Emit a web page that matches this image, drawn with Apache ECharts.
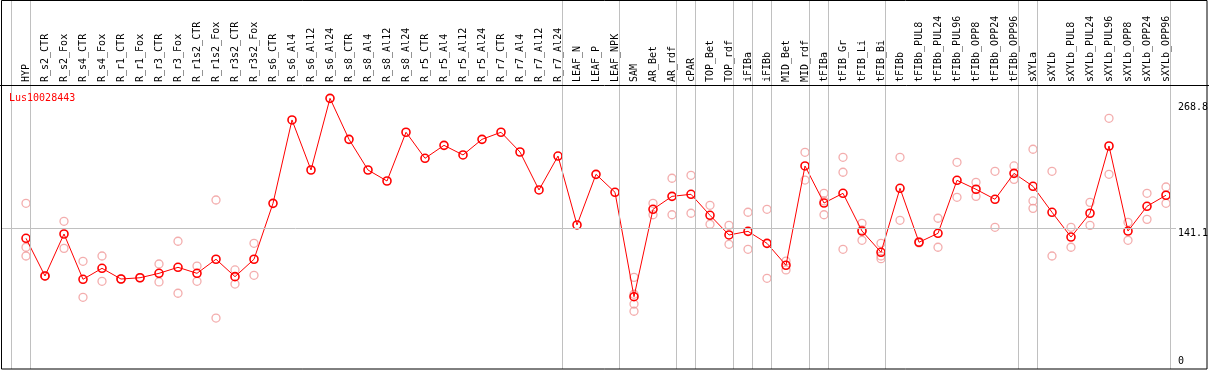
<!DOCTYPE html>
<html><head><meta charset="utf-8">
<script src="https://cdn.jsdelivr.net/npm/echarts@6/dist/echarts.min.js"></script>
<style>html,body{margin:0;padding:0;background:#fff}#c{width:1209px;height:370px}</style>
</head><body><div id="c"></div>
<script>
// ---------------- data ----------------
const geneName = 'Lus10028443';
const categories = ['HYP','R_s2_CTR','R_s2_Fox','R_s4_CTR','R_s4_Fox','R_r1_CTR','R_r1_Fox','R_r3_CTR','R_r3_Fox',
  'R_r1s2_CTR','R_r1s2_Fox','R_r3s2_CTR','R_r3s2_Fox','R_s6_CTR','R_s6_Al4','R_s6_Al12','R_s6_Al24',
  'R_s8_CTR','R_s8_Al4','R_s8_Al12','R_s8_Al24','R_r5_CTR','R_r5_Al4','R_r5_Al12','R_r5_Al24',
  'R_r7_CTR','R_r7_Al4','R_r7_Al12','R_r7_Al24','LEAF_N','LEAF_P','LEAF_NPK','SAM','AR_Bet','AR_rdf',
  'cPAR','TOP_Bet','TOP_rdf','iFIBa','iFIBb','MID_Bet','MID_rdf','tFIBa','tFIB_Gr','tFIB_Li','tFIB_Bi',
  'tFIBb','tFIBb_PUL8','tFIBb_PUL24','tFIBb_PUL96','tFIBb_OPP8','tFIBb_OPP24','tFIBb_OPP96',
  'sXYLa','sXYLb','sXYLb_PUL8','sXYLb_PUL24','sXYLb_PUL96','sXYLb_OPP8','sXYLb_OPP24','sXYLb_OPP96'];
const meanValues = [130.6,92.3,135.0,88.9,100.1,89.2,90.5,95.0,101.1,
  95.0,109.3,91.6,109.3,166.2,251.0,200.1,273.0,
  231.3,200.1,188.9,238.5,212.0,225.2,215.4,231.3,
  238.5,218.4,179.8,214.3,144.2,195.7,177.4,71.2,160.1,173.3,
  175.4,154.0,134.0,137.7,125.5,103.2,204.2,166.5,176.4,138.0,116.4,
  181.5,126.6,135.7,189.6,180.5,170.3,196.7,
  183.5,157.1,131.9,156.1,224.5,138.0,163.2,174.4];
const replicates = [
  [166.2,121.5,112.6],[92.0,92.6],[147.9,120.4],[107.2,70.6],[112.6,86.9],[89.0,89.4],[90.3,90.7],[104.5,86.2],[127.6,74.7],
  [102.4,86.9],[169.6,49.5],[98.4,84.1],[125.5,93.0],[],[],[],[],
  [],[],[],[],[],[],[],[],
  [],[],[],[],[],[],[],[90.9,73.7,63.8,56.4],[166.2,154.6],[191.7,154.6],
  [194.7,156.1],[164.2,144.9],[143.8,124.5],[157.1,119.4],[160.1,89.9],[107.5,98.4],[218.1,189.9],[176.4,168.6,154.6],[213.0,197.8,119.4],[145.9,139.1,128.6],[125.5,112.6,109.9],
  [213.0,148.9],[126.0,127.2],[151.0,121.5],[207.9,172.3],[187.6,173.3],[198.8,141.8],[204.2,190.6],
  [221.2,168.6,161.1],[198.8,112.6],[141.8,121.5],[167.2,143.8],[252.7,195.7],[146.9,128.6],[176.4,149.9],[182.8,166.2]];
const yTickValues = [0, 141.1, 268.8];
const groupEnds = ['HYP','R_r7_Al24','LEAF_NPK','AR_rdf','cPAR','TOP_rdf','iFIBa','iFIBb','MID_rdf','tFIBa','tFIB_Bi','tFIBb_OPP96','sXYLa','sXYLb_OPP96'];

// ---------------- layout ----------------
const FONT = 'DejaVu Sans Mono';
const X0 = 26, STEP = 19;              // pixel centre of first category, category spacing
const PLOT_L = 2, PLOT_R = 1176, PLOT_T = 0, PLOT_B = 369;
const ZERO_Y = 366.7, PX_PER_UNIT = 0.983;
const xMin = (PLOT_L - X0) / STEP, xMax = (PLOT_R - X0) / STEP;
const yMin = (ZERO_Y - PLOT_B) / PX_PER_UNIT, yMax = (ZERO_Y - PLOT_T) / PX_PER_UNIT;
const SEP_OFF = 0.235;
const HEADER_H = 84;

const meanData = meanValues.map((v, i) => [i, v]);
const repData = [];
replicates.forEach((arr, i) => arr.forEach(v => repData.push([i, v])));
const sepLines = [{ xAxis: -1 + SEP_OFF }].concat(groupEnds.map(n => ({ xAxis: categories.indexOf(n) + SEP_OFF })));

const chart = echarts.init(document.getElementById('c'), null, { renderer: 'canvas' });
chart.setOption({
  animation: false,
  backgroundColor: '#fff',
  title: {
    text: geneName, left: 9, top: 92, padding: 0,
    textStyle: { color: '#ff0000', fontFamily: FONT, fontSize: 10, fontWeight: 'normal', lineHeight: 12 }
  },
  grid: [
    { left: PLOT_L, top: PLOT_T, width: PLOT_R - PLOT_L, height: PLOT_B - PLOT_T, containLabel: false, outerBoundsMode: 'none' },
    { left: X0 - STEP / 2, top: 0, width: STEP * categories.length, height: HEADER_H, containLabel: false, outerBoundsMode: 'none' }
  ],
  xAxis: [
    { type: 'value', gridIndex: 0, min: xMin, max: xMax, show: false },
    { type: 'category', gridIndex: 1, data: categories, position: 'bottom', boundaryGap: true,
      axisLine: { show: false }, axisTick: { show: false }, splitLine: { show: false },
      axisLabel: { inside: true, rotate: 90, interval: 0, margin: 2, color: '#000', fontFamily: FONT, fontSize: 10 } }
  ],
  yAxis: [
    { type: 'value', gridIndex: 0, min: yMin, max: yMax, position: 'right',
      axisLine: { show: false }, axisTick: { show: false }, splitLine: { show: false },
      axisLabel: { show: true, customValues: yTickValues, margin: 2, color: '#000', fontFamily: FONT, fontSize: 10, lineHeight: 10,
        formatter: v => (v === 0 ? '0\n' : '\n' + v) } },
    { type: 'value', gridIndex: 1, show: false }
  ],
  graphic: [
    { type: 'rect', shape: { x: 1.5, y: 0.5, width: 1205.5, height: 368.5 }, style: { fill: null, stroke: '#000', lineWidth: 1 }, z: 100, silent: true },
    { type: 'line', shape: { x1: 0, y1: 85.5, x2: 1209, y2: 85.5 }, style: { stroke: '#000', lineWidth: 1 }, z: 100, silent: true }
  ],
  series: [
    { type: 'scatter', xAxisIndex: 0, yAxisIndex: 0, data: repData, symbol: 'circle', symbolSize: 8,
      itemStyle: { color: 'rgba(255,255,255,0)', borderColor: '#f09898', borderWidth: 1.3 }, silent: true, z: 2, clip: false,
      markLine: { silent: true, symbol: ['none', 'none'], label: { show: false },
        lineStyle: { color: '#c0c0c0', width: 1, type: 'solid' },
        data: [{ yAxis: 141.1 }].concat(sepLines) } },
    { type: 'line', xAxisIndex: 0, yAxisIndex: 0, data: meanData, symbol: 'circle', symbolSize: 8, showAllSymbol: true,
      lineStyle: { color: '#ff0000', width: 1 },
      itemStyle: { color: 'rgba(255,255,255,0)', borderColor: '#ff0000', borderWidth: 1.6 }, silent: true, z: 3 }
  ]
});
</script></body></html>
